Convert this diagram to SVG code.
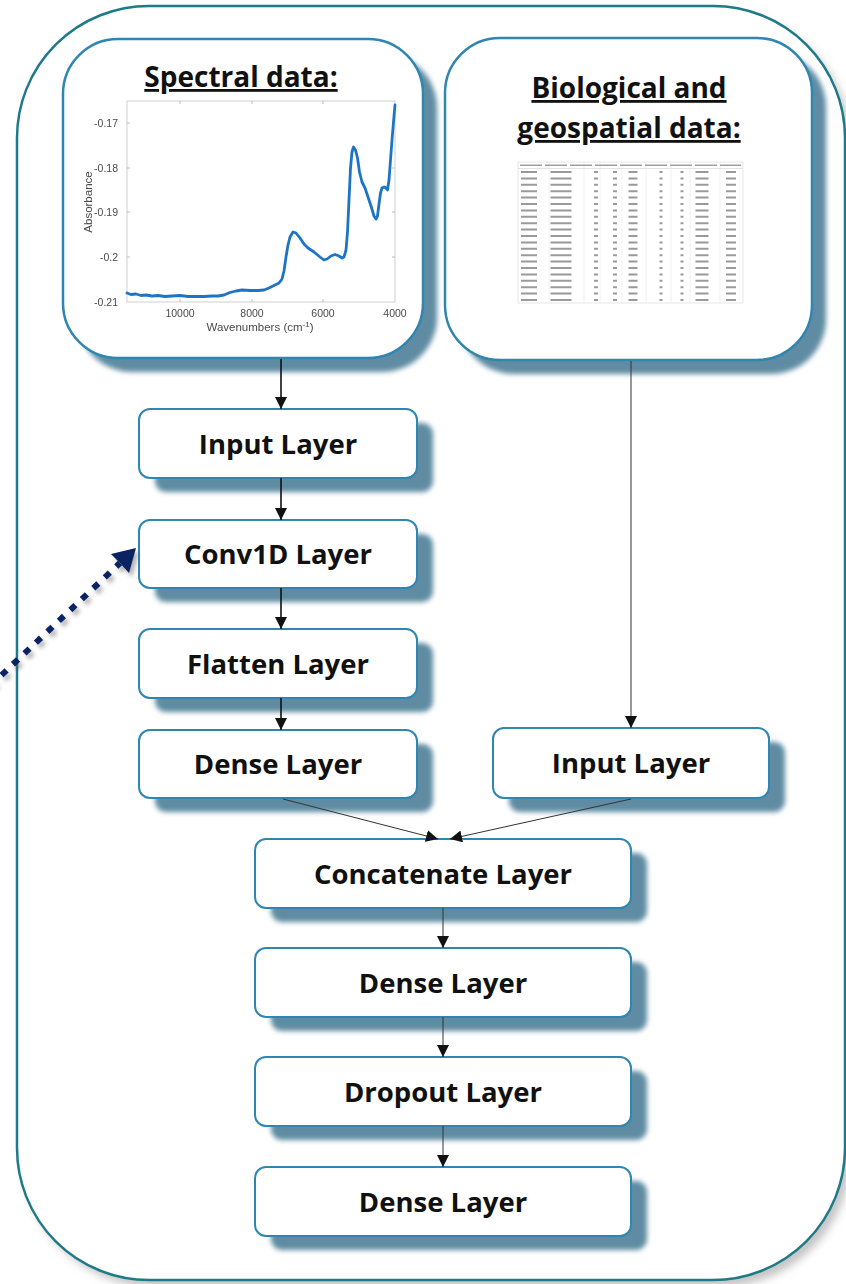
<svg xmlns="http://www.w3.org/2000/svg" width="846" height="1284" viewBox="0 0 846 1284">
  <style>
    .frame { fill: #ffffff; stroke: #1e7a88; stroke-width: 2.5; }
    .panel { fill: #ffffff; stroke: #2e86b1; stroke-width: 2.5; }
    .box { fill: #ffffff; stroke: #2e86b1; stroke-width: 2; }
    .shade { fill: #5f8ca2; filter: url(#soft); }
    .label { font-family: "Open Sans", "Liberation Sans", sans-serif; font-weight: 700; font-size: 27.5px; fill: #111111; text-anchor: middle; }
    .title { font-family: "Open Sans", "Liberation Sans", sans-serif; font-weight: 700; font-size: 28px; fill: #111111; text-anchor: middle; text-decoration: underline; }
    .tick { font-family: "Liberation Sans", Arial, sans-serif; font-size: 10.5px; fill: #4a4a4a; }
    .axislabel { font-family: "Liberation Sans", Arial, sans-serif; font-size: 11.5px; fill: #4a4a4a; text-anchor: middle; }
    .axis { fill: none; stroke: #cfcfcf; stroke-width: 1; }
    .flow { fill: none; stroke: #111111; stroke-width: 1.6; marker-end: url(#head); }
    .thin { fill: none; stroke: #333333; stroke-width: 1; marker-end: url(#head); }
  </style>
  <defs>
    <filter id="soft" x="-10%" y="-10%" width="130%" height="130%">
      <feGaussianBlur stdDeviation="2.5"/>
    </filter>
    <filter id="haze" x="-5%" y="-5%" width="110%" height="110%">
      <feGaussianBlur stdDeviation="4"/>
    </filter>
    <filter id="grain" x="-5%" y="-5%" width="110%" height="110%">
      <feGaussianBlur stdDeviation="0.5"/>
    </filter>
    <filter id="smudge" x="-5%" y="-5%" width="110%" height="110%">
      <feGaussianBlur stdDeviation="0.7"/>
    </filter>
    <filter id="dotshadow" x="-20%" y="-20%" width="140%" height="140%">
      <feGaussianBlur stdDeviation="2"/>
    </filter>
    <marker id="head" markerUnits="userSpaceOnUse" markerWidth="12" markerHeight="12" refX="12" refY="6" orient="auto">
      <path d="M0,0 L12,6 L0,12 z" fill="#111111"/>
    </marker>
  </defs>

  <!-- outer container -->
  <g id="container">
    <rect x="23" y="13" width="828" height="1274" rx="132" fill="#c4c4c4" filter="url(#haze)"/>
    <rect class="frame" x="17" y="6" width="828" height="1274" rx="132"/>
  </g>

  <!-- spectral input panel -->
  <g id="spectral-panel">
    <rect class="shade" x="77" y="53" width="360" height="319" rx="55"/>
    <rect class="panel" x="63" y="39" width="360" height="319" rx="55"/>
    <text class="title" x="241" y="87">Spectral data:</text>
    <g id="spectrum" filter="url(#grain)">
      <rect class="axis" x="127" y="101" width="268" height="201"/>
      <path d="M180,101 v3 M252,101 v3 M323,101 v3 M180,302 v-3 M252,302 v-3 M323,302 v-3 M127,123 h3 M127,168 h3 M127,212 h3 M127,257 h3 M395,123 h-3 M395,168 h-3 M395,212 h-3 M395,257 h-3" stroke="#bdbdbd" stroke-width="1" fill="none"/>
      <g class="tick" text-anchor="end">
        <text x="118" y="127">-0.17</text>
        <text x="118" y="172">-0.18</text>
        <text x="118" y="216">-0.19</text>
        <text x="118" y="261">-0.2</text>
        <text x="118" y="306">-0.21</text>
      </g>
      <g class="tick" text-anchor="middle">
        <text x="180" y="317">10000</text>
        <text x="252" y="317">8000</text>
        <text x="323" y="317">6000</text>
        <text x="395" y="317">4000</text>
      </g>
      <text class="axislabel" x="260" y="331">Wavenumbers (cm<tspan font-size="8" dy="-4">-1</tspan><tspan dy="4">)</tspan></text>
      <text class="axislabel" transform="translate(92,202) rotate(-90)">Absorbance</text>
      <polyline fill="none" stroke="#1f74c4" stroke-width="2.8" stroke-linejoin="round" stroke-linecap="round"
        points="127,293 131,294.5 136,294 141,295.5 146,295 152,296 158,295.5 165,296.5 172,296 180,295.5 188,296.5 196,296.5 204,296.5 212,296 218,296 224,295 230,292.5 236,291 242,290 250,290.5 258,290.5 264,290 269,288 274,285.5 279,283 282,279 284,271 286,257 288,245 290,237 293,232 296,233 300,238 304,244 308,248 314,252 320,257 324,260 327,259 331,256 335,254.5 339,256 342,258 344,257 346,250 347.5,232 349,200 350.5,168 352,152 353.5,147 355.5,150 357.5,158 359.5,172 362,182 365,188 368,197 371,206 374,216 376,219 377.5,216 379,204 380.5,193 382,188 384,187 386,188 387.5,190 389,180 390.5,160 392,140 393.5,122 395,105"/>
    </g>
  </g>

  <!-- biological and geospatial input panel -->
  <g id="bio-panel">
    <rect class="shade" x="459" y="52" width="367" height="322" rx="55"/>
    <rect class="panel" x="445" y="38" width="367" height="322" rx="55"/>
    <text class="title" x="629" y="98">Biological and</text>
    <text class="title" x="629" y="138">geospatial data:</text>
    <g id="sheet" filter="url(#smudge)">
      <rect x="518" y="162" width="225" height="141" fill="#ffffff" stroke="#d6d6d6" stroke-width="0.6"/>
      <path d="M518,168.5 H743" stroke="#d0d0d0" stroke-width="0.6"/>
      <path d="M549,162 V303 M584,162 V303 M600,162 V303 M622,162 V303 M646,162 V303 M671,162 V303 M690,162 V303 M720,162 V303" stroke="#e2e2e2" stroke-width="0.5"/>
      <!-- header cells -->
      <path d="M520,165.3 H741" stroke="#a0a0a0" stroke-width="1.6" stroke-dasharray="22 3"/>
      <!-- data cells: each column is a stack of short bars -->
      <g stroke="#9a9a9a" stroke-dasharray="2 4.4">
        <line x1="529" y1="171" x2="529" y2="303" stroke-width="16"/>
        <line x1="561" y1="171" x2="561" y2="303" stroke-width="21"/>
        <line x1="596" y1="171" x2="596" y2="303" stroke-width="4"/>
        <line x1="615" y1="171" x2="615" y2="303" stroke-width="4"/>
        <line x1="633" y1="171" x2="633" y2="303" stroke-width="9"/>
        <line x1="661" y1="171" x2="661" y2="303" stroke-width="3"/>
        <line x1="682" y1="171" x2="682" y2="303" stroke-width="3"/>
        <line x1="702" y1="171" x2="702" y2="303" stroke-width="13"/>
        <line x1="731" y1="171" x2="731" y2="303" stroke-width="10"/>
      </g>
    </g>
  </g>

  <!-- layers -->
  <g id="input-spectral">
    <rect class="shade" x="155" y="423" width="278" height="69" rx="11"/>
    <rect class="box" x="139" y="409" width="278" height="69" rx="11"/>
    <text class="label" x="278" y="454">Input Layer</text>
  </g>
  <g id="conv1d">
    <rect class="shade" x="155" y="534" width="278" height="68" rx="11"/>
    <rect class="box" x="139" y="520" width="278" height="68" rx="11"/>
    <text class="label" x="278" y="564">Conv1D Layer</text>
  </g>
  <g id="flatten">
    <rect class="shade" x="155" y="643" width="278" height="69" rx="11"/>
    <rect class="box" x="139" y="629" width="278" height="69" rx="11"/>
    <text class="label" x="278" y="674">Flatten Layer</text>
  </g>
  <g id="dense-spectral">
    <rect class="shade" x="155" y="744" width="278" height="68" rx="11"/>
    <rect class="box" x="139" y="730" width="278" height="68" rx="11"/>
    <text class="label" x="278" y="774">Dense Layer</text>
  </g>
  <g id="input-bio">
    <rect class="shade" x="509" y="742" width="276" height="70" rx="11"/>
    <rect class="box" x="493" y="728" width="276" height="70" rx="11"/>
    <text class="label" x="631" y="773">Input Layer</text>
  </g>
  <g id="concatenate">
    <rect class="shade" x="271" y="853" width="376" height="69" rx="11"/>
    <rect class="box" x="255" y="839" width="376" height="69" rx="11"/>
    <text class="label" x="443" y="884">Concatenate Layer</text>
  </g>
  <g id="dense-1">
    <rect class="shade" x="271" y="962" width="376" height="69" rx="11"/>
    <rect class="box" x="255" y="948" width="376" height="69" rx="11"/>
    <text class="label" x="443" y="993">Dense Layer</text>
  </g>
  <g id="dropout">
    <rect class="shade" x="271" y="1071" width="376" height="69" rx="11"/>
    <rect class="box" x="255" y="1057" width="376" height="69" rx="11"/>
    <text class="label" x="443" y="1102">Dropout Layer</text>
  </g>
  <g id="dense-out">
    <rect class="shade" x="271" y="1181" width="376" height="69" rx="11"/>
    <rect class="box" x="255" y="1167" width="376" height="69" rx="11"/>
    <text class="label" x="443" y="1212">Dense Layer</text>
  </g>

  <!-- connectors -->
  <g id="connectors">
    <line class="flow" x1="281" y1="359" x2="281" y2="409"/>
    <line class="flow" x1="281" y1="478" x2="281" y2="520"/>
    <line class="flow" x1="281" y1="588" x2="281" y2="629"/>
    <line class="flow" x1="281" y1="698" x2="281" y2="730"/>
    <line class="thin" x1="631" y1="361" x2="631" y2="728"/>
    <line class="thin" x1="283" y1="799" x2="438" y2="839"/>
    <line class="thin" x1="631" y1="799" x2="450" y2="839"/>
    <line class="thin" x1="443" y1="908" x2="443" y2="948"/>
    <line class="thin" x1="443" y1="1017" x2="443" y2="1057"/>
    <line class="thin" x1="443" y1="1126" x2="443" y2="1167"/>
    <!-- dotted pointer toward the convolution layer -->
    <g id="pointer">
      <g transform="translate(3,4)" opacity="0.45" filter="url(#dotshadow)">
        <line x1="-10" y1="686" x2="120" y2="563" stroke="#555555" stroke-width="6" stroke-dasharray="7 8.8"/>
        <polygon points="136,548 111,554 120,563 129,573" fill="#555555"/>
      </g>
      <line x1="-10" y1="686" x2="120" y2="563" stroke="#0b2263" stroke-width="6" stroke-dasharray="7 8.8"/>
      <polygon points="136,548 111,554 120,563 129,573" fill="#0b2263"/>
    </g>
  </g>
</svg>
